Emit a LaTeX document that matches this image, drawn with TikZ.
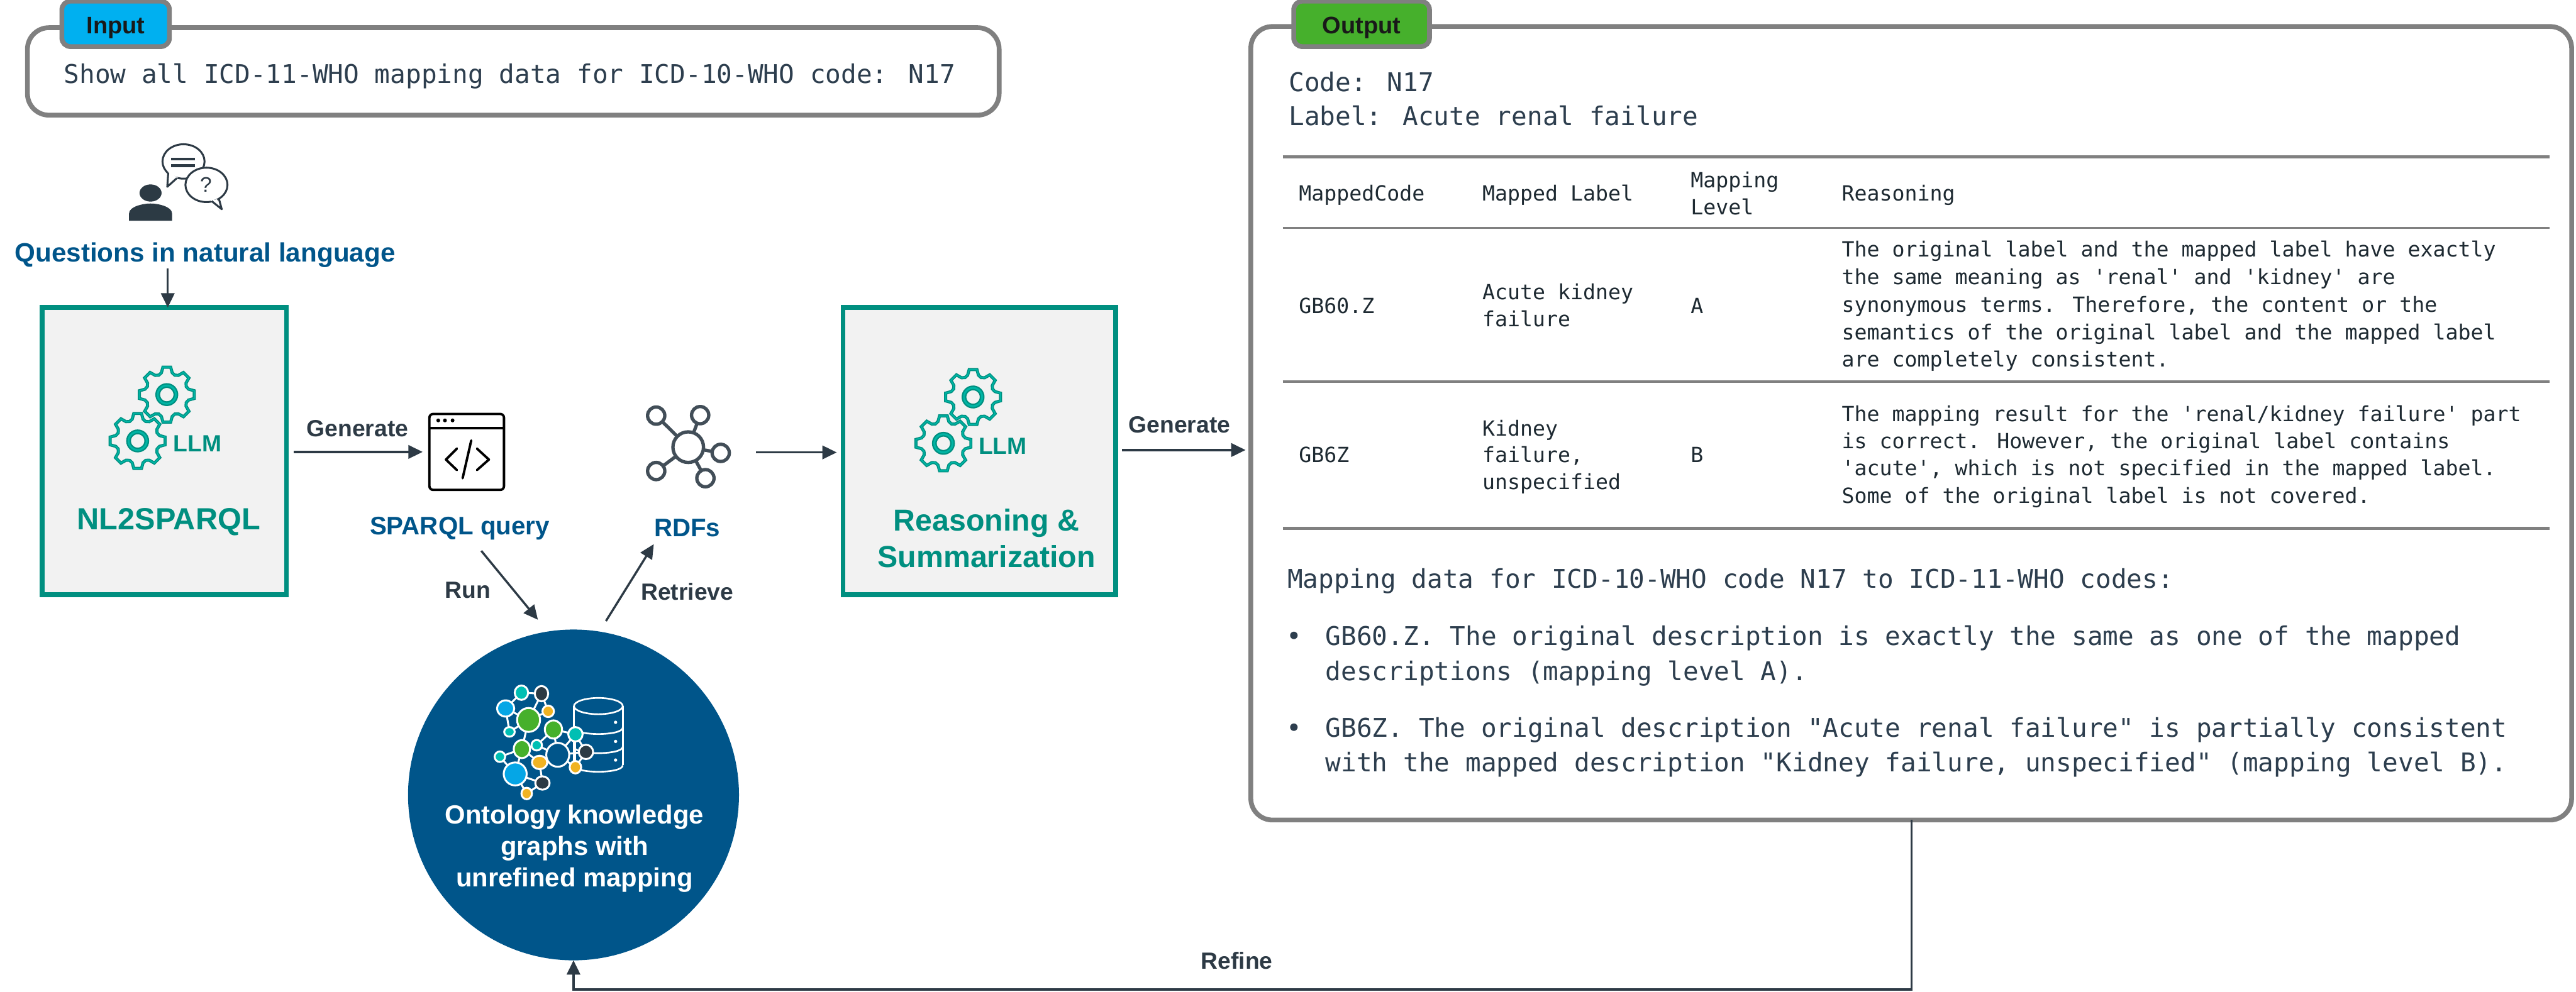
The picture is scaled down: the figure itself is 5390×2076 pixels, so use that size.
\documentclass[tikz,border=0pt]{standalone}
\usepackage{fontspec}
\usetikzlibrary{arrows.meta,shapes.geometric}
\setmainfont{Liberation Sans}
\newfontfamily\monof{DejaVu Sans Mono}
\newcommand\PX[1]{(#1)*0.28453pt}
\newcommand\FS[2]{\pgfmathsetmacro\tmpA{#1*0.28453}\pgfmathsetmacro\tmpB{#2*0.28453}\fontsize{\tmpA}{\tmpB}\selectfont}
\newcommand\sq{\textquotesingle}
\newcommand\dq{\textquotedbl}
\definecolor{frameg}{HTML}{808080}
\definecolor{tealb}{HTML}{008F80}
\definecolor{teall}{HTML}{00B5A5}
\definecolor{boxbg}{HTML}{F2F2F2}
\definecolor{navy}{HTML}{00558A}
\definecolor{ink}{HTML}{2D3A45}
\definecolor{monoink}{HTML}{2D3E4E}
\definecolor{tabink}{HTML}{1E2A32}
\definecolor{gteal}{HTML}{00BFB3}
\definecolor{gdark}{HTML}{2C3A44}
\definecolor{gblue}{HTML}{05A6E6}
\definecolor{gyel}{HTML}{F0B323}
\definecolor{ggreen}{HTML}{46B02C}
\definecolor{incyan}{HTML}{00B0F0}
\tikzset{
  frame/.style={draw=frameg,line width=\PX{10},rounded corners=\PX{45},fill=white,inner sep=0pt,outer sep=0pt},
  tag/.style={draw=frameg,line width=\PX{10},rounded corners=\PX{18},inner sep=0pt,outer sep=0pt,font=\bfseries\FS{50}{50},text=black!90,text height=\PX{40},text depth=0pt},
  llmbox/.style={draw=tealb,fill=boxbg,line width=\PX{10},minimum width=\PX{510.5},minimum height=\PX{601},inner sep=0pt,outer sep=0pt},
  conn/.style={draw=ink,line width=\PX{4.5},-{Triangle[length=\PX{30},width=\PX{28}]}},
  lab/.style={text=ink,font=\bfseries\FS{49}{49},inner sep=0pt},
  blab/.style={text=navy,font=\bfseries\FS{53}{53},inner sep=0pt},
  tlab/.style={text=tealb,inner sep=0pt,align=center},
  monotop/.style={text=monoink,font=\monof\FS{54}{54},inner sep=0pt,anchor=base west},
  monotab/.style={text=tabink,font=\monof\FS{43.7}{44},inner sep=0pt,anchor=base west},
  rule/.style={draw=frameg,line width=\PX{#1}},
  gearline/.style={draw=tealb,line width=\PX{2},double=teall,double distance=\PX{2.5}},
  gedge/.style={draw=white,line width=\PX{4}},
  rdfn/.style={circle,draw=ink!90,line width=\PX{7},inner sep=0pt,outer sep=0pt,minimum size=\PX{36}},
  bubble/.style={draw=ink,line width=\PX{4},fill=white},
  gs/.style n args={3}{ellipse,draw=white,line width=\PX{4},inner sep=0pt,outer sep=0pt,minimum width=\PX{2*#1+4},minimum height=\PX{2*#2+4},fill=#3},
}
\newcommand\twogears[1]{%
  \foreach \cx/\cy in {#1}{
    \begin{scope}[shift={(\cx,\cy)}]
      \draw[gearline] (82:58) \foreach \k in {0,...,7}{
        -- ({90+45*\k-8}:58) -- ({90+45*\k+8}:58) -- ({90+45*\k+14}:47) -- ({90+45*\k+22.5}:44) -- ({90+45*\k+31}:47)} -- cycle;
      \draw[gearline,line width=\PX{3},double distance=\PX{4}] (0,0) circle (19);
    \end{scope}}%
}
\begin{document}
\begin{tikzpicture}[x=0.01cm,y=-0.01cm]
\useasboundingbox (0,0) rectangle (5390,2076);

% ---------- input
\node[frame,minimum width=\PX{2032},minimum height=\PX{183}] (inbox) at (1074,149.5) {};
\node[tag,fill=incyan,minimum width=\PX{225},minimum height=\PX{95}] (intag) at (242,50) {Input};
\node[monotop] (intext) at (133,175) {Show all ICD-11-WHO mapping data for ICD-10-WHO code: N17};

% ---------- user icon
\fill[gdark] (315,404) ellipse (23 and 18);
\fill[gdark] (270,462) -- (270,447) .. controls (270,432) and (300,426) .. (315,426) .. controls (330,426) and (360,432) .. (360,447) -- (360,462) -- cycle;
\draw[bubble] (384,338) ellipse (44 and 36);
\fill[white] (353,360) -- (350,391) -- (372,372) -- cycle;
\draw[ink,line width=\PX{4},line join=round] (352,362) -- (350,391) -- (370,373);
\draw[ink,line width=\PX{6}] (358,333) -- (408,333) (358,347) -- (408,347);
\draw[bubble] (432,387) ellipse (44 and 36);
\fill[white] (454,417) -- (464,438) -- (441,420) -- cycle;
\draw[ink,line width=\PX{4},line join=round] (458,416) -- (464,438) -- (443,421);
\node[text=ink,font=\FS{44}{44},inner sep=0pt] (qmark) at (431,386) {?};

\node[blab,font=\bfseries\FS{55.5}{59}] (q) at (429,534) {Questions in natural language};

% ---------- LLM boxes
\node[llmbox] (nlbox) at (343.75,944.5) {};
\node[llmbox,minimum width=\PX{570}] (rbox) at (2049,944.5) {};
\twogears{349/826,288/923}
\twogears{2036/831,1974/928}
\node[tlab,font=\bfseries\FS{49}{49}] (llm1) at (413,929) {LLM};
\node[tlab,font=\bfseries\FS{49}{49}] (llm2) at (2098,934) {LLM};
\node[tlab,font=\bfseries\FS{64}{64}] (nltext) at (353,1092) {NL2SPARQL};
\node[tlab,font=\bfseries\FS{63.5}{76}] (rtext) at (2064,1127) {Reasoning \&\\Summarization};

% ---------- code icon
\node[draw=black,line width=\PX{5},rounded corners=\PX{8},minimum width=\PX{156},minimum height=\PX{159},inner sep=0pt,outer sep=0pt] (codeicon) at (976.5,946) {};
\draw[black,line width=\PX{5}] (898,896) -- (1055,896);
\foreach \dx in {917,931,947}{\fill[black] (\dx,880) circle (4);}
\draw[black,line width=\PX{5},line cap=round,line join=round] (956,939) -- (933,962) -- (956,984) (986,922) -- (968,1001) (998,939) -- (1023,962) -- (998,984);
\node[blab] (sparql) at (962,1106) {SPARQL query};

% ---------- RDF icon
\node[rdfn,minimum size=\PX{64}] (hub) at (1440,936) {};
\node[rdfn] (s1) at (1373,870) {};
\node[rdfn] (s2) at (1465,869) {};
\node[rdfn] (s3) at (1508,948) {};
\node[rdfn] (s4) at (1476,1001) {};
\node[rdfn] (s5) at (1373,986) {};
\foreach \s in {s1,s2,s3,s4,s5}{\draw[ink!90,line width=\PX{7}] (hub) -- (\s);}
\node[blab] (rdfs) at (1438,1105) {RDFs};

% ---------- knowledge graph
\node[circle,fill=navy,minimum size=\PX{692},inner sep=0pt,outer sep=0pt] (kg) at (1200,1664) {};
% database
\begin{scope}[white,line width=\PX{3.5}]
  \draw (1252,1478) ellipse (51 and 17);
  \draw (1201,1478) -- (1201,1602) (1303,1478) -- (1303,1602);
  \foreach \yy in {1523,1563,1602}{\draw (1201,\yy) .. controls (1201,\yy+18) and (1303,\yy+18) .. (1303,\yy);}
  \foreach \yy in {1512,1552,1591}{\fill[white] (1288,\yy) circle (3.5);}
\end{scope}
% graph
\node[gs={12}{13}{gteal}] (a) at (1091,1450) {};
\node[gs={12}{14}{gdark}] (b) at (1133,1452) {};
\node[gs={16}{15}{gblue}] (c) at (1058,1483) {};
\node[gs={10}{10}{gyel}] (d) at (1147,1489) {};
\node[gs={22}{23}{ggreen}] (e) at (1106,1507) {};
\node[gs={16}{17}{ggreen}] (f) at (1158,1527) {};
\node[gs={13}{13}{gteal}] (g) at (1204,1537) {};
\node[gs={9}{8}{gteal}] (h) at (1066,1532) {};
\node[gs={15}{17}{ggreen}] (i) at (1092,1568) {};
\node[gs={9}{9}{gteal}] (j) at (1123,1560) {};
\node[gs={22}{23}{navy}] (k) at (1167,1580) {};
\node[gs={13}{13}{gdark}] (l) at (1226,1574) {};
\node[gs={9}{9}{gteal}] (m) at (1046,1584) {};
\node[gs={14}{12}{gyel}] (n) at (1129,1596) {};
\node[gs={10}{11}{gyel}] (o) at (1204,1606) {};
\node[gs={22}{22}{gblue}] (p) at (1078,1620) {};
\node[gs={13}{12}{gdark}] (qq) at (1135,1639) {};
\node[gs={9}{10}{gyel}] (r) at (1102,1661) {};
\foreach \u/\v in {a/b,a/c,b/e,b/d,e/c,c/h,e/h,e/i,e/d,f/j,f/g,f/k,j/k,i/j,i/n,i/m,i/p,m/p,n/qq,p/qq,p/r,qq/r,k/g,k/l,k/o,g/l,g/o,l/o}{\draw[gedge] (\u) -- (\v);}
\node[text=white,font=\bfseries\FS{55}{66},align=center,inner sep=0pt] (kgtext) at (1202,1776) {Ontology knowledge\\graphs with\\unrefined mapping};

% ---------- output
\node[frame,minimum width=\PX{2762},minimum height=\PX{1660}] (outbox) at (3999,886) {};
\node[tag,fill=ggreen,minimum width=\PX{284},minimum height=\PX{95}] (outtag) at (2849,50) {Output};
\node[monotop] (ocode) at (2696,192) {Code: N17};
\node[monotop] (olabel) at (2696,263) {Label: Acute renal failure};
\draw[rule=7] (2684,328) -- (5335,328);
\draw[rule=5] (2684,477) -- (5335,477);
\draw[rule=5] (2684,799) -- (5335,799);
\draw[rule=7] (2684,1106) -- (5335,1106);
\node[monotab] (h1) at (2717,421) {MappedCode};
\node[monotab] (h2) at (3101,421) {Mapped Label};
\node[monotab] (h3a) at (3537,393) {Mapping};
\node[monotab] (h3b) at (3537,449) {Level};
\node[monotab] (h4) at (3853,420) {Reasoning};
\node[monotab] (c11) at (2717,656) {GB60.Z};
\node[monotab] (c12a) at (3101,627) {Acute kidney};
\node[monotab] (c12b) at (3101,684) {failure};
\node[monotab] (c13) at (3537,656) {A};
\node[monotab] (c14a) at (3853,537) {The original label and the mapped label have exactly};
\node[monotab] (c14b) at (3853,595) {the same meaning as \sq renal\sq{} and \sq kidney\sq{} are};
\node[monotab] (c14c) at (3853,653) {synonymous terms. Therefore, the content or the};
\node[monotab] (c14d) at (3853,711) {semantics of the original label and the mapped label};
\node[monotab] (c14e) at (3853,768) {are completely consistent.};
\node[monotab] (c21) at (2717,968) {GB6Z};
\node[monotab] (c22a) at (3101,912) {Kidney};
\node[monotab] (c22b) at (3101,968) {failure,};
\node[monotab] (c22c) at (3101,1025) {unspecified};
\node[monotab] (c23) at (3537,968) {B};
\node[monotab] (c24a) at (3853,882) {The mapping result for the \sq renal/kidney failure\sq{} part};
\node[monotab] (c24b) at (3853,939) {is correct. However, the original label contains};
\node[monotab] (c24c) at (3853,996) {\sq acute\sq, which is not specified in the mapped label.};
\node[monotab] (c24d) at (3853,1054) {Some of the original label is not covered.};
\node[monotop] (sum) at (2693,1231) {Mapping data for ICD-10-WHO code N17 to ICD-11-WHO codes:};
\node[monotop] (b1) at (2691,1351) {•};
\node[monotop] (b1a) at (2773,1351) {GB60.Z. The original description is exactly the same as one of the mapped};
\node[monotop] (b1b) at (2773,1424) {descriptions (mapping level A).};
\node[monotop] (b2) at (2691,1543) {•};
\node[monotop] (b2a) at (2773,1543) {GB6Z. The original description \dq Acute renal failure\dq{} is partially consistent};
\node[monotop] (b2b) at (2773,1615) {with the mapped description \dq Kidney failure, unspecified\dq{} (mapping level B).};

% ---------- connectors
\coordinate (qdrop) at (351,562);
\coordinate (runS) at (1007,1153);
\coordinate (retE) at (1368,1139);
\coordinate (rdfa) at (1582,947);
\coordinate (gen2) at (2348,942);
\coordinate (refineS) at (4000,2071);
\draw[conn] (qdrop) -- (qdrop |- nlbox.north);
\draw[conn,shorten <=\PX{16},shorten >=\PX{14}] (nlbox.east |- codeicon.west) -- (codeicon.west);
\draw[conn,shorten >=\PX{32}] (runS) -- (kg.99.5);
\draw[conn,shorten <=\PX{26}] (kg.81.2) -- (retE);
\draw[conn,shorten >=\PX{13}] (rdfa) -- (rdfa -| rbox.west);
\draw[conn,shorten <=\PX{14},shorten >=\PX{11}] (rbox.east |- gen2) -- (gen2 -| outbox.west);
\draw[conn] (refineS |- outbox.south) -- (refineS) -- (refineS -| kg.south) -- (kg.south);
\node[lab] (gen1l) at (748,897) {Generate};
\node[lab] (gen2l) at (2468,889) {Generate};
\node[lab] (runl) at (979,1236) {Run};
\node[lab] (retl) at (1438,1238) {Retrieve};
\node[lab] (refl) at (2588,2011) {Refine};
\end{tikzpicture}
\end{document}
